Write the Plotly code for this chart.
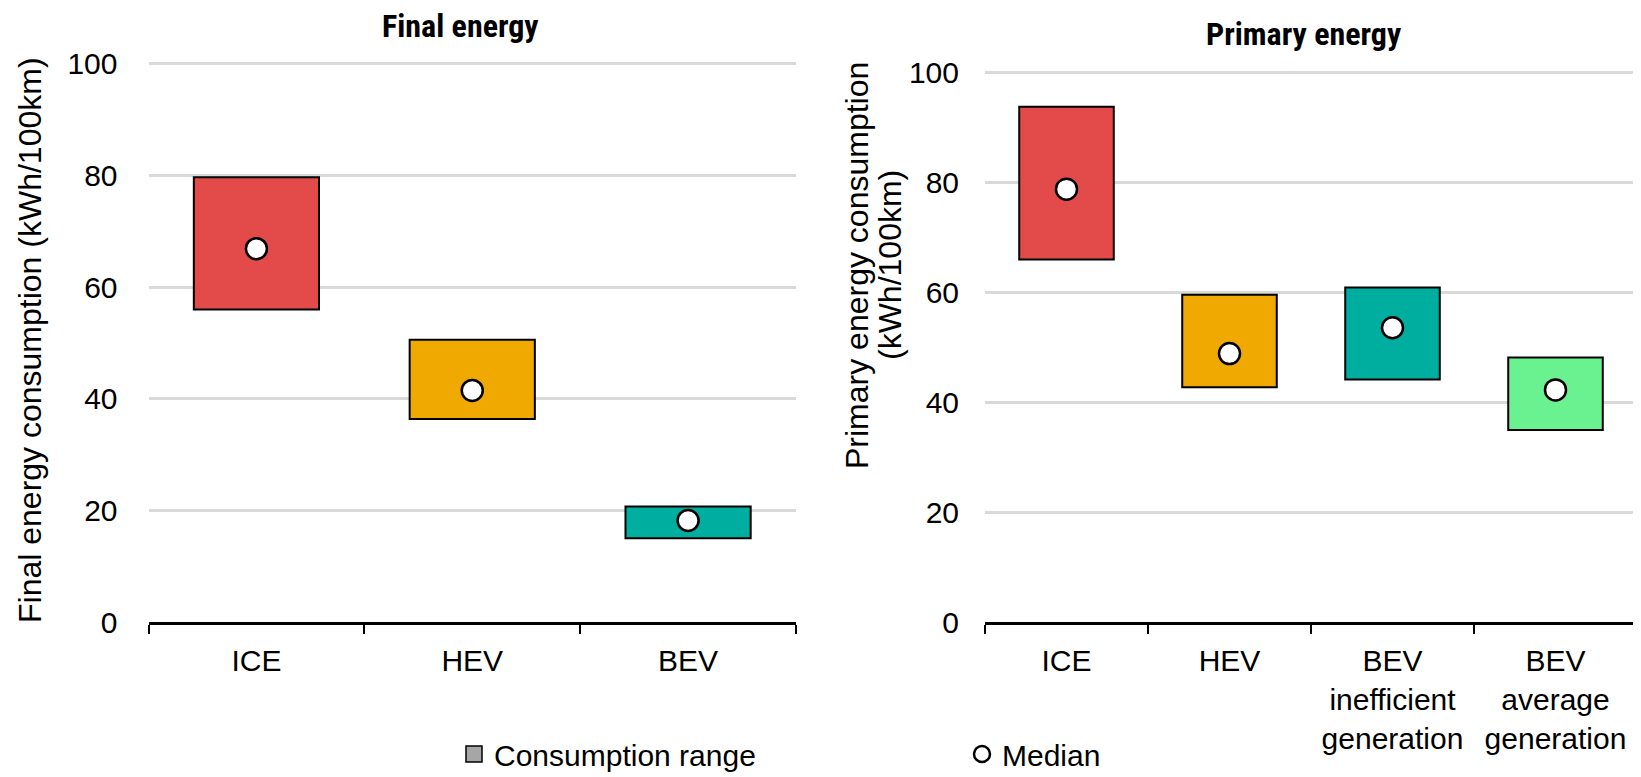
import plotly.graph_objects as go

# ---- data ----
final_cats = ["ICE", "HEV", "BEV"]
final_low = [56.0, 36.4, 15.0]
final_high = [79.7, 50.6, 20.7]
final_median = [66.9, 41.5, 18.2]

primary_cats = ["ICE", "HEV", "BEV<br>inefficient<br>generation", "BEV<br>average<br>generation"]
primary_low = [65.9, 42.7, 44.1, 34.9]
primary_high = [93.7, 59.5, 60.8, 48.1]
primary_median = [78.7, 48.8, 53.5, 42.2]

final_colors = ["#E34B4A", "#F0A900", "#00AEA0"]
primary_colors = ["#E34B4A", "#F0A900", "#00AEA0", "#6BF290"]

# The page body has an 8px default margin; lay out in window pixels and offset.
OFF = 8
W, H = 1641 - OFF, 777 - OFF
FONT = "Liberation Sans, Arial, sans-serif"
NARROW_BOLD = "Liberation Sans Narrow, Roboto Condensed, Arial Narrow, sans-serif"

fig = go.Figure()

def add_panel(cats, low, high, med, colors, xa, ya):
    fig.add_trace(go.Bar(
        x=cats, y=[h - l for h, l in zip(high, low)], base=low,
        marker=dict(color=colors, line=dict(color="black", width=2)),
        width=0.58, xaxis=xa, yaxis=ya, showlegend=False, hoverinfo="skip"))
    fig.add_trace(go.Scatter(
        x=cats, y=med, mode="markers",
        marker=dict(symbol="circle", size=21, color="white",
                    line=dict(color="black", width=2.5)),
        xaxis=xa, yaxis=ya, showlegend=False))

add_panel(final_cats, final_low, final_high, final_median, final_colors, "x", "y")
add_panel(primary_cats, primary_low, primary_high, primary_median, primary_colors, "x2", "y2")

# legend-only entries
fig.add_trace(go.Scatter(x=[None], y=[None], mode="markers", name="Consumption range",
                         marker=dict(symbol="square", size=17, color="#A6A6A6",
                                     line=dict(color="black", width=1.5)),
                         xaxis="x", yaxis="y", legend="legend"))
fig.add_trace(go.Scatter(x=[None], y=[None], mode="markers", name="Median",
                         marker=dict(symbol="circle", size=18, color="white",
                                     line=dict(color="black", width=2.5)),
                         xaxis="x2", yaxis="y2", legend="legend2"))

def px(v):
    return (v - OFF) / W

def py(v):
    return 1 - (v - OFF) / H

xcommon = dict(type="category", showline=True, linecolor="black", linewidth=2.5,
               ticks="outside", tickson="boundaries", ticklen=9, tickwidth=2,
               tickcolor="black", showgrid=False, zeroline=False,
               tickfont=dict(family=FONT, size=30, color="black"),
               ticklabelstandoff=10)
ycommon = dict(range=[0, 101], tickvals=[0, 20, 40, 60, 80, 100], showgrid=True,
               gridcolor="#D9D9D9", gridwidth=2.5, zeroline=False, showline=False,
               ticks="", tickfont=dict(family=FONT, size=30, color="black"))

TITLE_FONT = dict(family=FONT, size=32, color="black")

fig.update_layout(
    width=W, height=H,
    margin=dict(l=0, r=0, t=0, b=0, autoexpand=False),
    paper_bgcolor="white", plot_bgcolor="white",
    font=dict(family=FONT, color="black"),
    xaxis=dict(domain=[px(148.5), px(796)], anchor="y", **xcommon),
    yaxis=dict(domain=[py(622), py(58.4)], anchor="x", ticklabelstandoff=30, **ycommon),
    xaxis2=dict(domain=[px(985), px(1637)], anchor="y2", **xcommon),
    yaxis2=dict(domain=[py(622), py(66.5)], anchor="x2", ticklabelstandoff=25, **ycommon),
    legend=dict(orientation="h", x=px(454), y=py(754), xanchor="left", yanchor="middle",
                font=dict(family=FONT, size=30, color="black"), bgcolor="rgba(0,0,0,0)"),
    legend2=dict(orientation="h", x=px(962), y=py(754), xanchor="left", yanchor="middle",
                 font=dict(family=FONT, size=30, color="black"), bgcolor="rgba(0,0,0,0)"),
    annotations=[
        dict(text="<b>Final energy</b>", x=px(460), y=py(26), xref="paper", yref="paper",
             xanchor="center", yanchor="middle", showarrow=False,
             font=dict(family=NARROW_BOLD, size=32, color="black")),
        dict(text="<b>Primary energy</b>", x=px(1303), y=py(34), xref="paper", yref="paper",
             xanchor="center", yanchor="middle", showarrow=False,
             font=dict(family=NARROW_BOLD, size=32, color="black")),
        dict(text="Final energy consumption (kWh/100km)", textangle=-90,
             x=px(30), y=py(340), xref="paper", yref="paper",
             xanchor="center", yanchor="middle", showarrow=False, font=TITLE_FONT),
        dict(text="Primary energy consumption", textangle=-90,
             x=px(857), y=py(265), xref="paper", yref="paper",
             xanchor="center", yanchor="middle", showarrow=False, font=TITLE_FONT),
        dict(text="(kWh/100km)", textangle=-90,
             x=px(890), y=py(265), xref="paper", yref="paper",
             xanchor="center", yanchor="middle", showarrow=False, font=TITLE_FONT),
    ],
)

fig.write_html("out.html")
